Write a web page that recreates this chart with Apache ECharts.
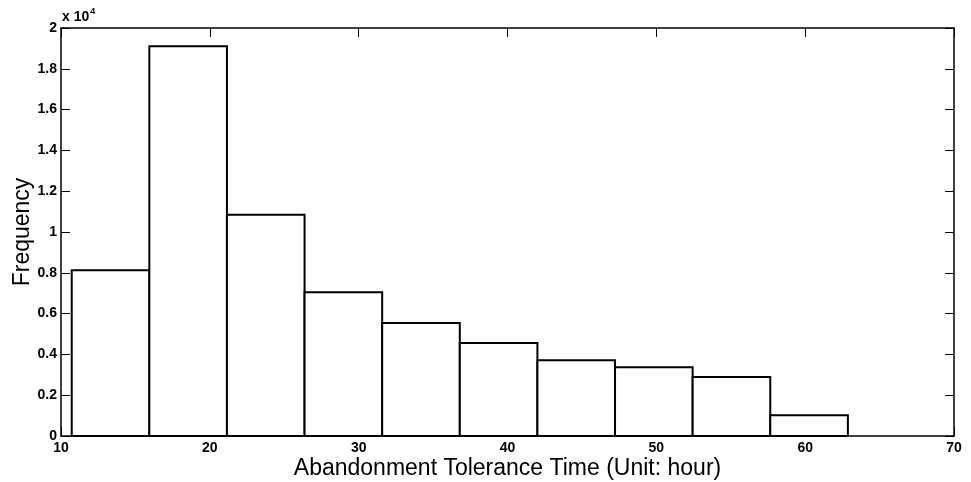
<!DOCTYPE html>
<html>
<head>
<meta charset="utf-8">
<script src="https://cdn.jsdelivr.net/npm/echarts@6/dist/echarts.min.js"></script>
<style>
  html, body { margin: 0; padding: 0; background: #fff; }
  #chart { width: 971px; height: 482px; }
</style>
</head>
<body>
<div id="chart"></div>
<script>
// Histogram bins (hours) and their counts
const binStart = 10.72;
const binWidth = 5.215;
const counts = [8130, 19100, 10840, 7050, 5540, 4560, 3710, 3370, 2890, 1020];
const xTicks = [10, 20, 30, 40, 50, 60, 70];
const yTicks = [0, 2000, 4000, 6000, 8000, 10000, 12000, 14000, 16000, 18000, 20000];

const bins = counts.map((c, i) => [binStart + i * binWidth, binStart + (i + 1) * binWidth, c]);

const chart = echarts.init(document.getElementById('chart'));
const font = 'Liberation Sans, Arial, sans-serif';

const tickStyle = { show: true, inside: true, length: 9, lineStyle: { color: '#000', width: 1 } };
const lineStyle = { show: true, onZero: false, lineStyle: { color: '#000', width: 1.5 } };

chart.setOption({
  animation: false,
  backgroundColor: '#fff',
  grid: { left: 61, right: 17, top: 28, bottom: 46, containLabel: false, outerBoundsMode: 'none' },
  xAxis: [{
    type: 'value', min: xTicks[0], max: xTicks[xTicks.length - 1], interval: 10, position: 'bottom',
    axisLine: lineStyle, axisTick: tickStyle, splitLine: { show: false },
    axisLabel: { color: '#000', fontFamily: font, fontWeight: 'bold', fontSize: 14, margin: 5 },
    name: 'Abandonment Tolerance Time (Unit: hour)', nameLocation: 'middle', nameGap: 21,
    nameMoveOverlap: false,
    nameTextStyle: { color: '#000', fontFamily: font, fontSize: 23 }
  }, {
    type: 'value', min: xTicks[0], max: xTicks[xTicks.length - 1], interval: 10, position: 'top',
    axisLine: lineStyle, axisTick: tickStyle, splitLine: { show: false },
    axisLabel: { show: false }
  }],
  yAxis: [{
    type: 'value', min: yTicks[0], max: yTicks[yTicks.length - 1], interval: 2000, position: 'left',
    axisLine: lineStyle, axisTick: tickStyle, splitLine: { show: false },
    axisLabel: {
      color: '#000', fontFamily: font, fontWeight: 'bold', fontSize: 14, margin: 4,
      formatter: v => String(Math.round(v / 1000) / 10)
    },
    name: 'Frequency', nameLocation: 'middle', nameGap: 27, nameRotate: 90,
    nameMoveOverlap: false,
    nameTextStyle: { color: '#000', fontFamily: font, fontSize: 23 }
  }, {
    type: 'value', min: yTicks[0], max: yTicks[yTicks.length - 1], interval: 2000, position: 'right',
    axisLine: lineStyle, axisTick: tickStyle, splitLine: { show: false },
    axisLabel: { show: false }
  }],
  graphic: [{
    type: 'text', left: 62, top: 7,
    style: {
      text: '{b|x 10}{s|4}', fill: '#000',
      rich: {
        b: { fontFamily: font, fontWeight: 'bold', fontSize: 14, verticalAlign: 'bottom' },
        s: { fontFamily: font, fontWeight: 'bold', fontSize: 9, verticalAlign: 'top', padding: [0, 0, 8, 1] }
      }
    }
  }],
  series: [{
    type: 'custom',
    xAxisIndex: 0, yAxisIndex: 0,
    data: bins,
    encode: { x: [0, 1], y: 2 },
    renderItem: (params, api) => {
      const p0 = api.coord([api.value(0), 0]);
      const p1 = api.coord([api.value(1), api.value(2)]);
      return {
        type: 'rect',
        shape: { x: p0[0], y: p1[1], width: p1[0] - p0[0], height: p0[1] - p1[1] },
        style: { fill: '#fff', stroke: '#000', lineWidth: 2 }
      };
    }
  }]
});
</script>
</body>
</html>
